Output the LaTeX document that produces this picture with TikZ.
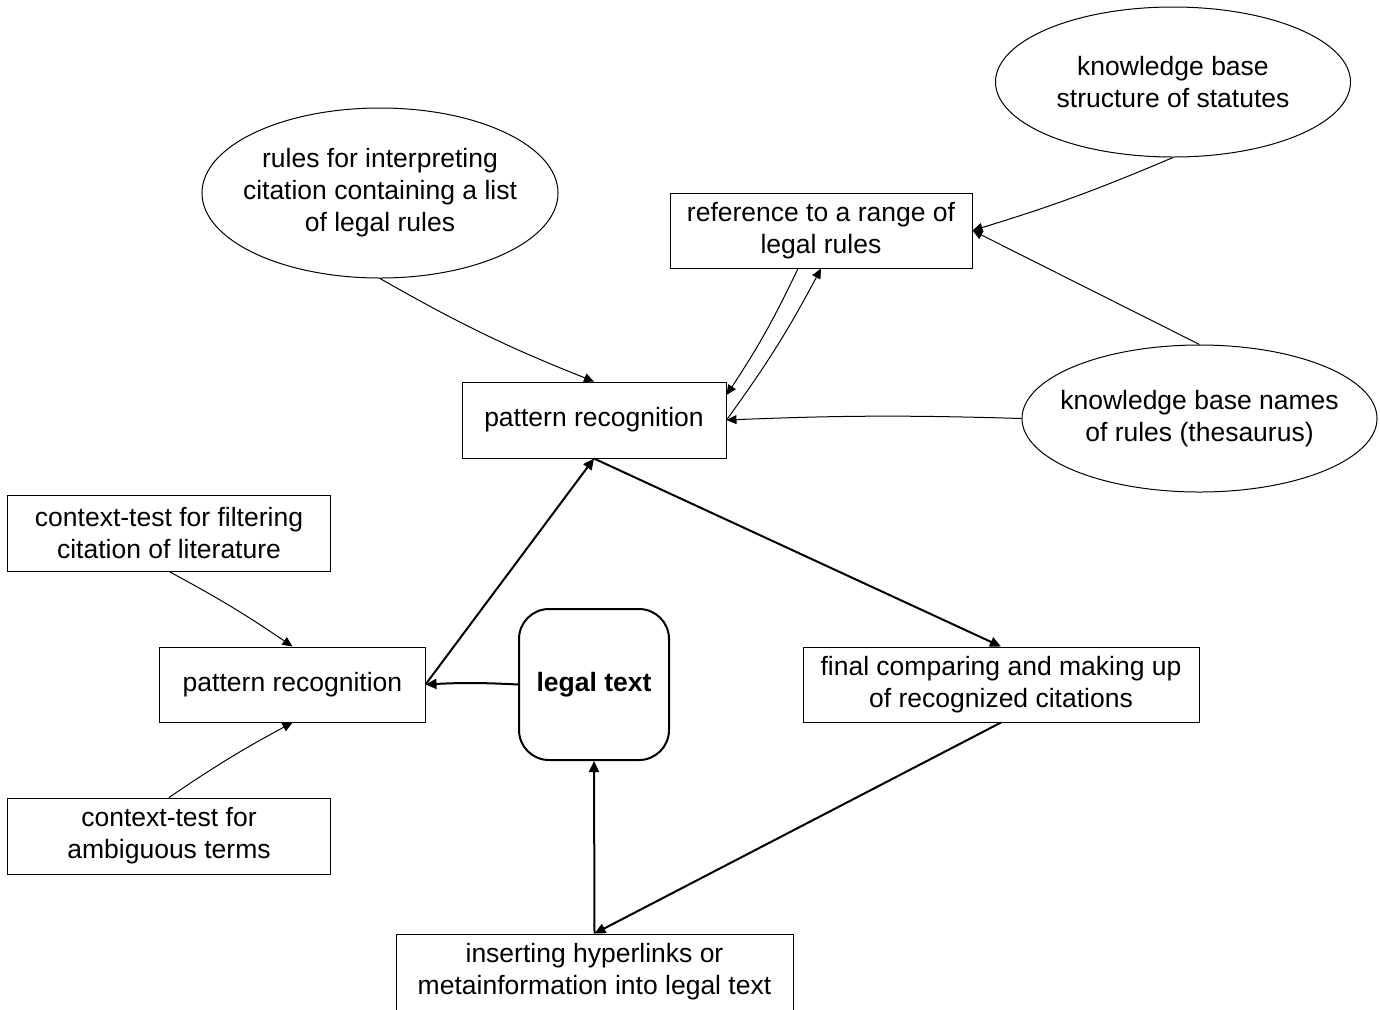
\documentclass[tikz,border=0pt]{standalone}
\usepackage{fontspec}
\setmainfont{Liberation Sans}
\usetikzlibrary{shapes.geometric,arrows.meta}

\tikzset{
  box/.style={draw, line width=0.5bp, align=center, inner sep=0pt},
  oval/.style={draw, ellipse, line width=0.5bp, align=center, inner xsep=-25bp, inner ysep=0pt},
  legal/.style={draw, line width=1bp, rounded corners=15bp, align=center,
                font=\fontsize{13.3}{16}\selectfont\bfseries},
  link/.style={line width=0.5bp, -{Triangle[length=5bp,width=4.5bp]}},
  flow/.style={line width=1bp, -{Triangle[length=5.5bp,width=5bp]}}
}

\begin{document}
\begin{tikzpicture}[x=0.5bp, y=-0.5bp, font=\fontsize{13.3}{16}\selectfont]
    \useasboundingbox (0,0) rectangle (1380,1009);

    % knowledge sources (ovals)
    \node[oval, minimum width=178bp, minimum height=85bp] (rules) at (380,193)
        {rules for interpreting\\citation containing a list\\of legal rules};
    \node[oval, minimum width=177.5bp, minimum height=75bp] (statutes) at (1173,82)
        {knowledge base\\structure of statutes};
    \node[oval, minimum width=177.5bp, minimum height=73.5bp] (thesaurus) at (1199.5,418.5)
        {knowledge base names\\of rules (thesaurus)};

    % boxes
    \node[box, minimum width=151bp, minimum height=37.5bp] (range) at (821,230.5)
        {reference to a range of\\legal rules};
    \node[box, minimum width=132bp, minimum height=38bp] (recog) at (594,420)
        {pattern recognition};
    \node[box, minimum width=161bp, minimum height=38bp] (filter) at (169,533)
        {context-test for filtering\\citation of literature};
    \node[box, minimum width=132.5bp, minimum height=37.5bp] (recogb) at (292.5,684.5)
        {pattern recognition};
    \node[box, minimum width=198bp, minimum height=37.5bp] (final) at (1001,684.5)
        {final comparing and making up\\of recognized citations};
    \node[box, minimum width=161bp, minimum height=38bp] (ambig) at (169,836)
        {context-test for\\ambiguous terms};
    \node[box, minimum width=198.5bp, minimum height=38bp] (insert) at (594.5,972)
        {inserting hyperlinks or\\metainformation into legal text};
    \node[legal, minimum width=75bp, minimum height=75.5bp] (text) at (594,684.5)
        {legal text};

    % thin connectors
    \draw[link] (rules.south) to[bend right=4] (recog.north);
    \draw[link] ([xshift=-11.5bp]range.south) to[bend left=4] ([yshift=12.5bp]recog.east);
    \draw[link] (recog.east) to[bend right=4] (range.south);
    \draw[link] (statutes.south) to[bend left=3] (range.east);
    \draw[link] (thesaurus.north) -- (range.east);
    \draw[link] (thesaurus.west) to[bend right=2] (recog.east);
    \draw[link] (filter.south) to[bend left=3] (recogb.north);
    \draw[link] (ambig.north) to[bend left=3] (recogb.south);

    % thick connectors
    \draw[flow] (recog.south) -- (final.north);
    \draw[flow] (recogb.east) -- (recog.south);
    \draw[flow] (text.west) to[bend right=3] (recogb.east);
    \draw[flow] (final.south) -- (insert.north);
    \draw[flow] (insert.north) -- (text.south);
\end{tikzpicture}
\end{document}
